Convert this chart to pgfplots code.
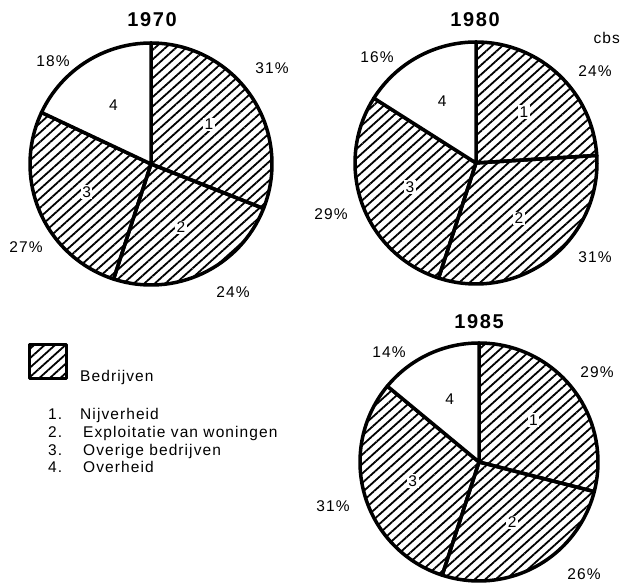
\documentclass[border=0pt]{standalone}
\usepackage{fontspec}
\setmainfont{Liberation Sans}
\newfontfamily\lsfont[LetterSpace=7]{Liberation Sans}
\newfontfamily\tsfont[LetterSpace=8]{Liberation Sans}
\usepackage{pgfplots}
\pgfplotsset{compat=1.18}
\usepackage{pgfplotstable}
\usetikzlibrary{patterns.meta}

\newcommand\lab{\lsfont\fontsize{15.5bp}{17bp}\selectfont}
\newcommand\ttl{\tsfont\bfseries\fontsize{20bp}{22bp}\selectfont}

% shares (percent) per sector, clockwise from 12 o'clock
\pgfplotstableread{
part pct
1 31
2 24
3 27
4 18
}\pieA
\pgfplotstableread{
part pct
1 24
2 31
3 29
4 16
}\pieB
\pgfplotstableread{
part pct
1 29
2 26
3 31
4 14
}\pieC
% percentage labels (x, y in picture units)
\pgfplotstableread{
x y lab
53 522 18
272 515 31
26 336 27
233 291 24
377 526 16
595 512 24
331 369 29
595 326 31
389 231 14
597 211 29
333 77 31
584 9 26
}\pctlabels

\tikzset{
  hatched/.style={draw=black, line width=3.5bp, line join=round,
    pattern={Lines[angle=42,distance=7bp,line width=1.8bp]}},
  whitesec/.style={draw=black, line width=3.5bp, line join=round, fill=white},
  numlab/.style={fill=white, inner sep=1.5bp, font=\lab},
}

\newcommand\drawpie[4]{% #1 table, #2 cx, #3 cy, #4 radius
  \xdef\startang{90}%
  \pgfplotstableforeachcolumnelement{pct}\of#1\as\val{%
    \pgfmathsetmacro\endang{\startang-3.6*\val}%
    \pgfmathsetmacro\midang{(\startang+\endang)/2}%
    \pgfmathsetmacro\lr{0.58*#4}%
    \ifnum\pgfplotstablerow<3 \def\sty{hatched}\else\def\sty{whitesec}\fi
    \edef\doit{%
      \noexpand\draw[\sty] (axis cs:#2,#3) -- ++(\startang:#4bp)
        arc[start angle=\startang, end angle=\endang, radius=#4bp] -- cycle;
      \noexpand\path (axis cs:#2,#3) ++(\midang:\lr bp)
        node[numlab] {\the\numexpr\pgfplotstablerow+1\relax};
    }%
    \doit
    \xdef\startang{\endang}%
  }%
}

\begin{document}
\begin{tikzpicture}
\begin{axis}[
  name=ax,
  scale only axis, width=621bp, height=583bp,
  xmin=0, xmax=621, ymin=0, ymax=583,
  hide axis, clip=false,
]
\drawpie{\pieA}{151}{419}{121}
\drawpie{\pieB}{476}{420}{121}
\drawpie{\pieC}{479}{121}{119}

\addplot[only marks, mark=none,
  point meta=explicit symbolic,
  nodes near coords={\pgfplotspointmeta\%},
  nodes near coords align=center,
  every node near coord/.append style={font=\lab, anchor=center, inner sep=0pt},
] table[x=x, y=y, meta=lab] {\pctlabels};

\node[font=\ttl] at (axis cs:152,563) {1970};
\node[font=\ttl] at (axis cs:475,563) {1980};
\node[font=\ttl] at (axis cs:479,261) {1985};
\node[font=\lab, anchor=east, inner sep=0pt] at (axis cs:620,545) {cbs};

% legend
\draw[hatched, line width=3bp] (axis cs:29,204) rectangle (axis cs:66,238);
\node[font=\lab, anchor=base west, inner sep=0pt] at (axis cs:80,201) {Bedrijven};
\node[font=\lab, anchor=base west, inner sep=0pt] at (axis cs:48,163) {1.};
\node[font=\lab, anchor=base west, inner sep=0pt] at (axis cs:80,163) {Nijverheid};
\node[font=\lab, anchor=base west, inner sep=0pt] at (axis cs:48,145) {2.};
\node[font=\lab, anchor=base west, inner sep=0pt] at (axis cs:83,145) {Exploitatie van woningen};
\node[font=\lab, anchor=base west, inner sep=0pt] at (axis cs:48,127) {3.};
\node[font=\lab, anchor=base west, inner sep=0pt] at (axis cs:83,127) {Overige bedrijven};
\node[font=\lab, anchor=base west, inner sep=0pt] at (axis cs:48,110) {4.};
\node[font=\lab, anchor=base west, inner sep=0pt] at (axis cs:83,110) {Overheid};
\end{axis}
\pgfresetboundingbox
\path (ax.south west) rectangle (ax.north east);
\end{tikzpicture}
\end{document}
